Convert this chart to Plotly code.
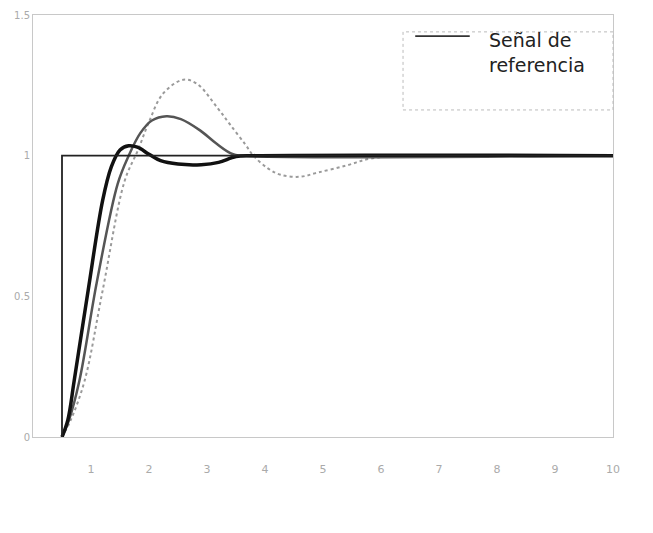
import plotly.graph_objects as go

# Reference step signal
ref_t = [0.5, 0.5, 10.0]
ref_y = [0.0, 1.0, 1.0]

# Response 1 (thick black, fastest, small overshoot)
r1_t = [0.5, 0.6, 0.71, 0.95, 1.2, 1.35, 1.5, 1.65, 1.8, 2.0, 2.2, 2.5, 2.9, 3.2, 3.5, 3.8, 10.0]
r1_y = [0.0, 0.06, 0.2, 0.52, 0.84, 0.96, 1.02, 1.035, 1.03, 1.005, 0.982, 0.97, 0.968, 0.976, 0.997, 1.0, 1.0]

# Response 2 (grey, medium overshoot)
r2_t = [0.5, 0.62, 0.8, 1.1, 1.46, 1.65, 1.85, 2.05, 2.3, 2.55, 2.88, 3.15, 3.45, 3.8, 10.0]
r2_y = [0.0, 0.06, 0.2, 0.55, 0.9, 1.0, 1.08, 1.125, 1.14, 1.13, 1.09, 1.045, 1.005, 0.998, 1.0]

# Response 3 (light dotted, largest overshoot)
r3_t = [0.5, 0.65, 0.89, 1.2, 1.58, 1.81, 2.0, 2.24, 2.59, 2.83, 3.18, 3.4, 3.66, 3.8, 4.05, 4.27, 4.6, 4.91, 5.4, 5.83, 6.5, 10.0]
r3_y = [0.0, 0.06, 0.2, 0.52, 0.91, 1.02, 1.12, 1.22, 1.27, 1.255, 1.17, 1.11, 1.04, 1.0, 0.955, 0.932, 0.925, 0.94, 0.965, 0.99, 1.0, 1.0]

x_ticks = [1, 2, 3, 4, 5, 6, 7, 8, 9, 10]
y_ticks = [0, 0.5, 1, 1.5]
y_tick_text = ["0", "0.5", "1", "1.5"]
legend_label = "Señal de<br>referencia"

fig = go.Figure()
fig.add_trace(go.Scatter(x=r3_t, y=r3_y, mode="lines", line=dict(color="#9a9a9a", width=2, dash="dot", shape="spline", smoothing=1.0), showlegend=False))
fig.add_trace(go.Scatter(x=r2_t, y=r2_y, mode="lines", line=dict(color="#555555", width=2.5, shape="spline", smoothing=1.0), showlegend=False))
fig.add_trace(go.Scatter(x=r1_t, y=r1_y, mode="lines", line=dict(color="#111111", width=3.5, shape="spline", smoothing=1.0), showlegend=False))
fig.add_trace(go.Scatter(x=ref_t, y=ref_y, mode="lines", line=dict(color="#222222", width=1.8), showlegend=False))

# manual legend box
fig.add_shape(type="rect", xref="paper", yref="paper", x0=0.638, x1=1.0, y0=0.775, y1=0.96,
              line=dict(color="#bbbbbb", width=1, dash="dot"))
fig.add_shape(type="line", xref="paper", yref="paper", x0=0.659, x1=0.753, y0=0.950, y1=0.950,
              line=dict(color="#333333", width=1.8))
fig.add_annotation(xref="paper", yref="paper", x=0.783, y=0.972, xanchor="left", yanchor="top",
                   text=legend_label, showarrow=False, align="left",
                   font=dict(family="DejaVu Sans", size=19, color="#222222"))

fig.update_layout(
    width=645, height=525,
    margin=dict(l=25, r=40, t=7, b=96, autoexpand=False),
    paper_bgcolor="white", plot_bgcolor="white",
    showlegend=False,
    font=dict(family="DejaVu Sans", size=10, color="#999999"),
)
fig.update_xaxes(range=[0, 10], tickvals=x_ticks, showgrid=False, zeroline=False, automargin=False,
                 showline=True, mirror=True, linecolor="#c8c8c8", linewidth=1,
                 ticks="", ticklabelstandoff=22, tickfont=dict(size=11, color="#aaaaaa"))
fig.update_yaxes(range=[0, 1.5], tickvals=y_ticks, ticktext=y_tick_text, showgrid=False, zeroline=False,
                 automargin=False, showline=True, mirror=True, linecolor="#c8c8c8", linewidth=1,
                 ticks="", ticklabelstandoff=0, tickfont=dict(size=10, color="#aaaaaa"))

fig.write_html("out.html")
